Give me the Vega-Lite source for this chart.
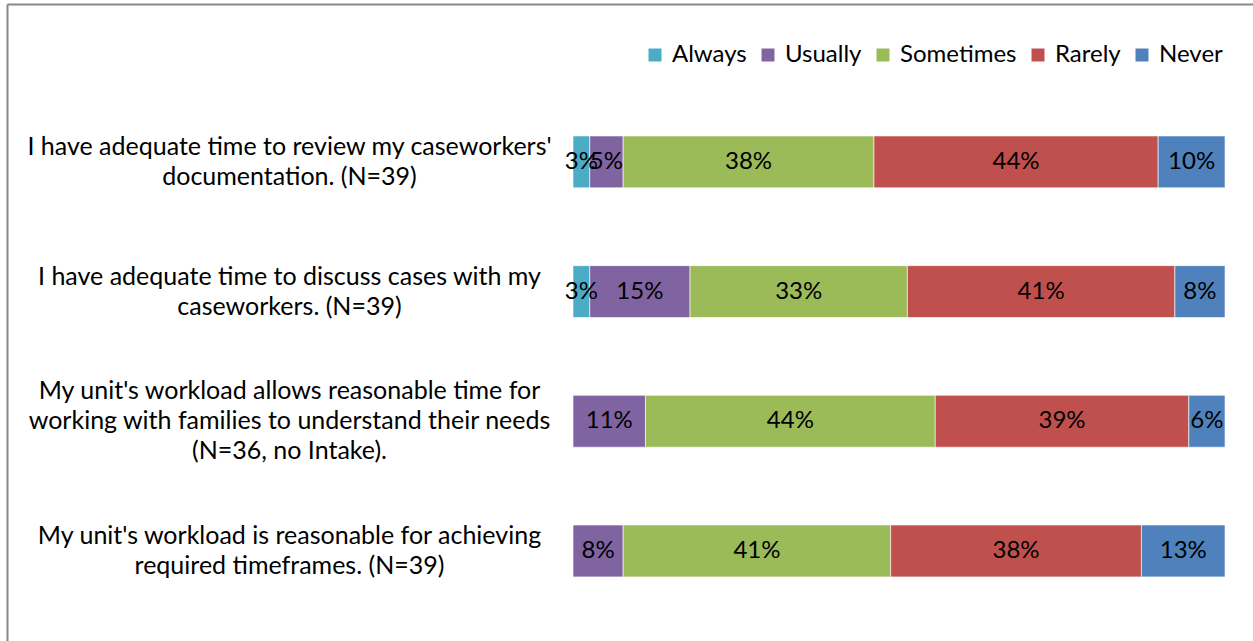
{
  "$schema": "https://vega.github.io/schema/vega-lite/v6.json",
  "width": 1246,
  "height": 637,
  "autosize": {"type": "none"},
  "padding": {"left": 7, "top": 4, "right": 0, "bottom": 0},
  "background": "white",
  "config": {
    "view": {"stroke": null},
    "font": "Lato",
    "text": {"font": "Lato"}
  },
  "data": {
    "values": [
      {"question": "I have adequate time to review my caseworkers'|documentation. (N=39)", "response": "Always", "order": 1, "value": 0.02564},
      {"question": "I have adequate time to review my caseworkers'|documentation. (N=39)", "response": "Usually", "order": 2, "value": 0.05128},
      {"question": "I have adequate time to review my caseworkers'|documentation. (N=39)", "response": "Sometimes", "order": 3, "value": 0.38462},
      {"question": "I have adequate time to review my caseworkers'|documentation. (N=39)", "response": "Rarely", "order": 4, "value": 0.4359},
      {"question": "I have adequate time to review my caseworkers'|documentation. (N=39)", "response": "Never", "order": 5, "value": 0.10256},
      {"question": "I have adequate time to discuss cases with my|caseworkers. (N=39)", "response": "Always", "order": 1, "value": 0.02564},
      {"question": "I have adequate time to discuss cases with my|caseworkers. (N=39)", "response": "Usually", "order": 2, "value": 0.15385},
      {"question": "I have adequate time to discuss cases with my|caseworkers. (N=39)", "response": "Sometimes", "order": 3, "value": 0.33333},
      {"question": "I have adequate time to discuss cases with my|caseworkers. (N=39)", "response": "Rarely", "order": 4, "value": 0.41026},
      {"question": "I have adequate time to discuss cases with my|caseworkers. (N=39)", "response": "Never", "order": 5, "value": 0.07692},
      {"question": "My unit's workload allows reasonable time for|working with families to understand their needs|(N=36, no Intake).", "response": "Usually", "order": 2, "value": 0.11111},
      {"question": "My unit's workload allows reasonable time for|working with families to understand their needs|(N=36, no Intake).", "response": "Sometimes", "order": 3, "value": 0.44444},
      {"question": "My unit's workload allows reasonable time for|working with families to understand their needs|(N=36, no Intake).", "response": "Rarely", "order": 4, "value": 0.38889},
      {"question": "My unit's workload allows reasonable time for|working with families to understand their needs|(N=36, no Intake).", "response": "Never", "order": 5, "value": 0.05556},
      {"question": "My unit's workload is reasonable for achieving|required timeframes. (N=39)", "response": "Usually", "order": 2, "value": 0.07692},
      {"question": "My unit's workload is reasonable for achieving|required timeframes. (N=39)", "response": "Sometimes", "order": 3, "value": 0.41026},
      {"question": "My unit's workload is reasonable for achieving|required timeframes. (N=39)", "response": "Rarely", "order": 4, "value": 0.38462},
      {"question": "My unit's workload is reasonable for achieving|required timeframes. (N=39)", "response": "Never", "order": 5, "value": 0.12821}
    ]
  },
  "transform": [
    {"stack": "value", "groupby": ["question"], "sort": [{"field": "order", "order": "ascending"}], "as": ["x0", "x1"]},
    {"calculate": "(datum.x0 + datum.x1) / 2", "as": "mid"}
  ],
  "encoding": {
    "y": {
      "field": "question",
      "type": "nominal",
      "sort": [
        "I have adequate time to review my caseworkers'|documentation. (N=39)",
        "I have adequate time to discuss cases with my|caseworkers. (N=39)",
        "My unit's workload allows reasonable time for|working with families to understand their needs|(N=36, no Intake).",
        "My unit's workload is reasonable for achieving|required timeframes. (N=39)"
      ],
      "scale": {"paddingInner": 0.6, "paddingOuter": 0.756, "align": 0.673},
      "axis": {
        "title": null,
        "orient": "left",
        "domain": true,
        "domainColor": "#888888",
        "domainWidth": 2,
        "ticks": false,
        "tickSize": 0,
        "labelAlign": "center",
        "labelBaseline": "middle",
        "labelPadding": -282,
        "labelOffset": {"condition": {"test": "indexof(datum.value, 'N=36') >= 0", "value": -30}, "value": -15},
        "labelFontSize": 25,
        "labelFont": "Lato",
        "labelColor": "black",
        "labelLineHeight": 30,
        "labelLimit": 0,
        "labelOverlap": false,
        "labelExpr": "split(datum.label, '|')"
      }
    }
  },
  "layer": [
    {
      "mark": {"type": "bar", "stroke": "white", "strokeWidth": 0.6},
      "encoding": {
        "x": {
          "field": "x0",
          "type": "quantitative",
          "scale": {"domain": [-0.8681, 1.0429], "nice": false, "zero": false},
          "axis": {
            "title": null,
            "orient": "top",
            "domain": true,
            "domainColor": "#888888",
            "domainWidth": 2,
            "labels": false,
            "ticks": false,
            "grid": false
          }
        },
        "x2": {"field": "x1"},
        "color": {
          "field": "response",
          "type": "nominal",
          "scale": {
            "domain": ["Always", "Usually", "Sometimes", "Rarely", "Never"],
            "range": ["#4BACC6", "#8064A2", "#9BBB59", "#C0504D", "#4F81BD"]
          },
          "legend": {
            "title": null,
            "orient": "none",
            "legendX": 636,
            "legendY": 39,
            "direction": "horizontal",
            "symbolType": "square",
            "symbolSize": 169,
            "symbolStrokeWidth": 0,
            "labelFontSize": 24,
            "labelFont": "Lato",
            "labelColor": "black",
            "labelOffset": 5,
            "columnPadding": 9
          }
        }
      }
    },
    {
      "mark": {"type": "text", "fontSize": 24, "font": "Lato", "color": "black", "align": "center", "baseline": "middle"},
      "encoding": {
        "x": {"field": "mid", "type": "quantitative"},
        "text": {"field": "value", "type": "quantitative", "format": ".0%"}
      }
    }
  ]
}
